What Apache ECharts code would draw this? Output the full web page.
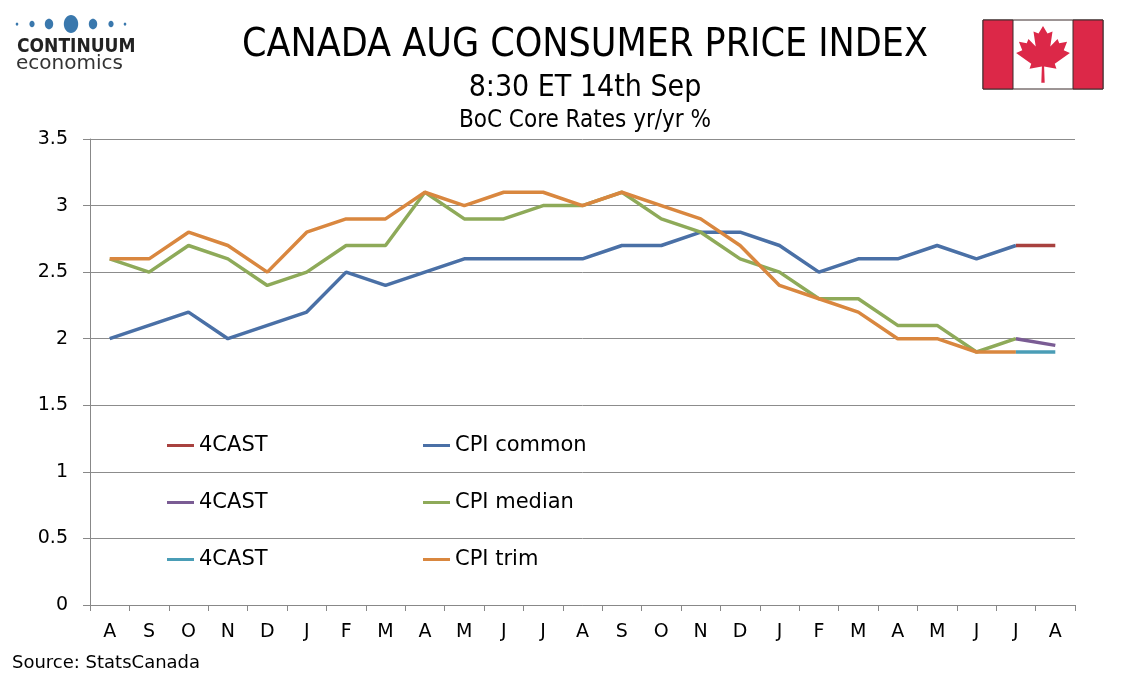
<!DOCTYPE html>
<html>
<head>
<meta charset="utf-8">
<script src="https://cdn.jsdelivr.net/npm/echarts@6/dist/echarts.min.js"></script>
<style>
  html, body { margin: 0; padding: 0; background: #fff; }
  #chart { width: 1134px; height: 680px; }
</style>
</head>
<body>
<div id="chart"></div>
<script>
// month labels, Aug to Aug
var months = ['A', 'S', 'O', 'N', 'D', 'J', 'F', 'M', 'A', 'M', 'J', 'J', 'A',
              'S', 'O', 'N', 'D', 'J', 'F', 'M', 'A', 'M', 'J', 'J', 'A'];

// BoC core measures yr/yr % (last month is the forecast)
var cpiCommon = [2.0, 2.1, 2.2, 2.0, 2.1, 2.2, 2.5, 2.4, 2.5, 2.6, 2.6, 2.6, 2.6,
                 2.7, 2.7, 2.8, 2.8, 2.7, 2.5, 2.6, 2.6, 2.7, 2.6, 2.7, null];
var cpiMedian = [2.6, 2.5, 2.7, 2.6, 2.4, 2.5, 2.7, 2.7, 3.1, 2.9, 2.9, 3.0, 3.0,
                 3.1, 2.9, 2.8, 2.6, 2.5, 2.3, 2.3, 2.1, 2.1, 1.9, 2.0, null];
var cpiTrim   = [2.6, 2.6, 2.8, 2.7, 2.5, 2.8, 2.9, 2.9, 3.1, 3.0, 3.1, 3.1, 3.0,
                 3.1, 3.0, 2.9, 2.7, 2.4, 2.3, 2.2, 2.0, 2.0, 1.9, 1.9, null];

// forecasts: July actual -> Aug 4CAST
var fcCommon = [2.7, 2.7];
var fcMedian = [2.0, 1.95];
var fcTrim   = [1.9, 1.9];

var yTicks = [0, 0.5, 1, 1.5, 2, 2.5, 3, 3.5];

// pad forecast pairs out to the full axis
function tail(pair) {
    var out = [];
    for (var i = 0; i < months.length - 2; i++) out.push(null);
    return out.concat(pair);
}

var axisFont = 'DejaVu Sans';
var headFont = "'DejaVu Sans Condensed', 'Liberation Sans Narrow', 'DejaVu Sans', sans-serif";

// maple leaf outline on a 100 x 105 box
var leaf = [[50,0],[58,14],[67,10],[63,38],[76,24],[79,32],[93,29],[87,45],[98,50],
            [71,70],[74,79],[52,75],[53,105],[47,105],[48,75],[26,79],[29,70],[2,50],
            [13,45],[7,29],[21,32],[24,24],[37,38],[33,10],[42,14]];
var leafPts = leaf.map(function (p) { return [1015 + p[0] * 0.56, 26 + p[1] * 0.54]; });

// logo dots
var dots = [[17, 1.3], [32, 2.6], [49, 4.2], [71, 7.2], [93, 4.2], [111, 2.6], [125, 1.3]];
var logo = dots.map(function (d) {
    return {
        type: 'ellipse',
        shape: { cx: d[0], cy: 24, rx: d[1], ry: d[1] * 1.25 },
        style: { fill: '#3a78ad' }
    };
});

var myChart = echarts.init(document.getElementById('chart'));

var legendText = { fontFamily: axisFont, fontSize: 21, color: '#000', lineHeight: 21 };

var option = {
    backgroundColor: '#fff',
    animation: false,
    grid: { left: 90, right: 59, top: 139, bottom: 75 },
    legend: [{
        left: 162, top: 430, orient: 'vertical', selectedMode: false,
        icon: 'rect', itemWidth: 27, itemHeight: 3, itemGap: 36,
        data: ['fc1', 'fc2', 'fc3'],
        formatter: function () { return '4CAST'; },
        textStyle: legendText
    }, {
        left: 418, top: 430, orient: 'vertical', selectedMode: false,
        icon: 'rect', itemWidth: 27, itemHeight: 3, itemGap: 36,
        data: ['CPI common', 'CPI median', 'CPI trim'],
        textStyle: legendText
    }],
    xAxis: {
        type: 'category',
        data: months,
        boundaryGap: true,
        axisLine: { lineStyle: { color: '#888', width: 1 } },
        axisTick: { show: true, interval: 0, length: 6, lineStyle: { color: '#888' } },
        axisLabel: { interval: 0, margin: 18, color: '#000', fontFamily: axisFont, fontSize: 19 }
    },
    yAxis: {
        type: 'value',
        min: yTicks[0],
        max: yTicks[yTicks.length - 1],
        interval: 0.5,
        axisLine: { show: true, lineStyle: { color: '#888', width: 1 } },
        axisTick: { show: true, length: 7, lineStyle: { color: '#888' } },
        splitLine: { lineStyle: { color: '#8c8c8c', width: 1 } },
        axisLabel: { margin: 22, color: '#000', fontFamily: axisFont, fontSize: 19 }
    },
    series: [
        { name: 'CPI common', type: 'line', data: cpiCommon, color: '#4a70a6' },
        { name: 'CPI median', type: 'line', data: cpiMedian, color: '#8eaa59' },
        { name: 'CPI trim',   type: 'line', data: cpiTrim,   color: '#d9873f' },
        { name: 'fc1', type: 'line', data: tail(fcCommon), color: '#a8413f' },
        { name: 'fc2', type: 'line', data: tail(fcMedian), color: '#7a5c94' },
        { name: 'fc3', type: 'line', data: tail(fcTrim),   color: '#4a9db6' }
    ].map(function (s) {
        s.symbol = 'none';
        s.lineStyle = { width: 3.5, color: s.color };
        s.itemStyle = { color: s.color };
        return s;
    }),
    graphic: logo.concat([
        { type: 'text', x: 17, y: 47,
          style: { text: 'CONTINUUM', fill: '#222', align: 'left', verticalAlign: 'middle',
                   font: "bold 19px 'DejaVu Sans Condensed', 'DejaVu Sans', sans-serif" } },
        { type: 'text', x: 16, y: 64,
          style: { text: 'economics', fill: '#333', align: 'left', verticalAlign: 'middle',
                   font: "20px 'DejaVu Sans', sans-serif" } },
        { type: 'text', x: 585, y: 46,
          style: { text: 'CANADA AUG CONSUMER PRICE INDEX', fill: '#000', align: 'center',
                   verticalAlign: 'middle', font: '39px ' + headFont } },
        { type: 'text', x: 585, y: 88,
          style: { text: '8:30 ET 14th Sep', fill: '#000', align: 'center',
                   verticalAlign: 'middle', font: '30px ' + headFont } },
        { type: 'text', x: 585, y: 121,
          style: { text: 'BoC Core Rates yr/yr %', fill: '#000', align: 'center',
                   verticalAlign: 'middle', font: '24px ' + headFont } },
        { type: 'text', x: 12, y: 663,
          style: { text: 'Source: StatsCanada', fill: '#000', align: 'left',
                   verticalAlign: 'middle', font: "18px 'DejaVu Sans', sans-serif" } },
        // flag
        { type: 'rect', shape: { x: 983, y: 20, width: 120, height: 69 },
          style: { fill: '#fff', stroke: '#3a2a2a', lineWidth: 1 } },
        { type: 'rect', shape: { x: 983, y: 20, width: 30, height: 69 },
          style: { fill: '#dc2848', stroke: '#3a2a2a', lineWidth: 1 } },
        { type: 'rect', shape: { x: 1073, y: 20, width: 30, height: 69 },
          style: { fill: '#dc2848', stroke: '#3a2a2a', lineWidth: 1 } },
        { type: 'polygon', shape: { points: leafPts }, style: { fill: '#dc2848' } }
    ])
};

myChart.setOption(option);
</script>
</body>
</html>
